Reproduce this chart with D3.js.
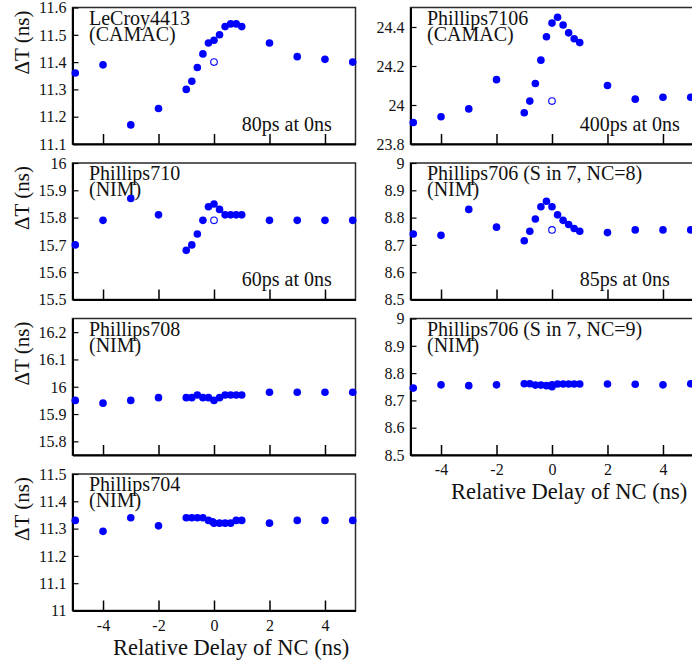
<!DOCTYPE html>
<html>
<head>
<meta charset="utf-8">
<script src="https://cdn.jsdelivr.net/npm/d3@7"></script>
<style>
  html, body { margin: 0; padding: 0; background: #fff; }
  svg { display: block; }
  svg text { font-family: "Liberation Serif", "Times New Roman", Times, "DejaVu Serif", serif !important; fill: #111; }
</style>
</head>
<body>
<svg id="chart" width="692" height="664"></svg>
<script>
// ---------- data ----------
const delays = [-5, -4, -3, -2, -1, -0.8, -0.6, -0.4, -0.2, 0, 0.2, 0.4, 0.6, 0.8, 1, 2, 3, 4, 5];
const delays704 = [-5, -4, -3, -2, -1, -0.8, -0.6, -0.4, -0.2, -0.05, 0, 0.2, 0.4, 0.6, 0.8, 1, 2, 3, 4, 5];
const delays706nc9 = [-5, -4, -3, -2, -1, -0.8, -0.6, -0.4, -0.2, 0, 0, 0.2, 0.4, 0.6, 0.8, 1, 2, 3, 4, 5];

const lecroy4413 = [11.36, 11.39, 11.17, 11.23, 11.30, 11.33, 11.38, 11.43, 11.47, 11.48, 11.50, 11.53, 11.54, 11.54, 11.53, 11.47, 11.42, 11.41, 11.40];
const lecroy4413Open = [11.40];
const phillips710 = [15.70, 15.79, 15.87, 15.81, 15.68, 15.70, 15.74, 15.79, 15.84, 15.85, 15.83, 15.81, 15.81, 15.81, 15.81, 15.79, 15.79, 15.79, 15.79];
const phillips710Open = [15.79];
const phillips708 = [15.95, 15.94, 15.95, 15.96, 15.96, 15.96, 15.97, 15.96, 15.96, 15.95, 15.96, 15.97, 15.97, 15.97, 15.97, 15.98, 15.98, 15.98, 15.98];
const phillips704 = [11.33, 11.29, 11.34, 11.31, 11.34, 11.34, 11.34, 11.34, 11.33, 11.325, 11.32, 11.32, 11.32, 11.32, 11.33, 11.33, 11.32, 11.33, 11.33, 11.33];
const phillips7106 = [23.91, 23.94, 23.98, 24.13, 23.96, 24.02, 24.11, 24.23, 24.35, 24.42, 24.45, 24.41, 24.37, 24.34, 24.32, 24.10, 24.03, 24.04, 24.04];
const phillips7106Open = [24.02];
const phillips706nc8 = [8.74, 8.735, 8.83, 8.765, 8.715, 8.75, 8.795, 8.84, 8.86, 8.84, 8.81, 8.79, 8.775, 8.76, 8.75, 8.745, 8.755, 8.755, 8.755];
const phillips706nc8Open = [8.755];
const phillips706nc9 = [8.745, 8.757, 8.754, 8.757, 8.761, 8.761, 8.756, 8.756, 8.754, 8.757, 8.750, 8.76, 8.76, 8.76, 8.76, 8.76, 8.76, 8.759, 8.757, 8.761];

const xTicks = [-4, -2, 0, 2, 4];
const xTickLabels = ["-4", "-2", "0", "2", "4"];
const yTicks1 = [11.1, 11.2, 11.3, 11.4, 11.5, 11.6];
const yTicks2 = [15.5, 15.6, 15.7, 15.8, 15.9, 16];
const yTicks3 = [15.8, 15.9, 16, 16.1, 16.2];
const yTicks4 = [11, 11.1, 11.2, 11.3, 11.4, 11.5];
const yTicksR1 = [23.8, 24, 24.2, 24.4];
const yTicksR2 = [8.5, 8.6, 8.7, 8.8, 8.9, 9];
const yTicksR3 = [8.5, 8.6, 8.7, 8.8, 8.9, 9];

const panels = [
  { col: 0, row: 0, title: ["LeCroy4413", "(CAMAC)"], x: delays, y: lecroy4413, open: lecroy4413Open, dom: [11.1, 11.6], ticks: yTicks1, note: "80ps at 0ns" },
  { col: 0, row: 1, title: ["Phillips710", "(NIM)"], x: delays, y: phillips710, open: phillips710Open, dom: [15.5, 16], ticks: yTicks2, note: "60ps at 0ns" },
  { col: 0, row: 2, title: ["Phillips708", "(NIM)"], x: delays, y: phillips708, open: [], dom: [15.75, 16.25], ticks: yTicks3, note: null },
  { col: 0, row: 3, title: ["Phillips704", "(NIM)"], x: delays704, y: phillips704, open: [], dom: [11, 11.5], ticks: yTicks4, note: null, bottom: true },
  { col: 1, row: 0, title: ["Phillips7106", "(CAMAC)"], x: delays, y: phillips7106, open: phillips7106Open, dom: [23.8, 24.5], ticks: yTicksR1, note: "400ps at 0ns" },
  { col: 1, row: 1, title: ["Phillips706 (S in 7, NC=8)", "(NIM)"], x: delays, y: phillips706nc8, open: phillips706nc8Open, dom: [8.5, 9], ticks: yTicksR2, note: "85ps at 0ns" },
  { col: 1, row: 2, title: ["Phillips706 (S in 7, NC=9)", "(NIM)"], x: delays706nc9, y: phillips706nc9, open: [], dom: [8.5, 9], ticks: yTicksR3, note: null, bottom: true }
];

// ---------- layout ----------
const colRanges = [[72.5, 355.5], [410.5, 693.5]];
const rowTop = r => 7.5 + r * 155.5;
const panelH = 136.5;
const xDomain = [-5.1, 5.1];
const serif = '"Liberation Serif", "Times New Roman", Times, "DejaVu Serif", serif';

const svg = d3.select("#chart").attr("font-family", serif);
const blue = "#0000ff";

panels.forEach(p => {
  const x = d3.scaleLinear().domain(xDomain).range(colRanges[p.col]);
  const top = rowTop(p.row), bot = top + panelH;
  const y = d3.scaleLinear().domain(p.dom).range([bot, top]);
  const g = svg.append("g").attr("font-family", serif);
  const [x0, x1] = colRanges[p.col];

  // frame (top/right)
  g.append("rect").attr("x", x0).attr("y", top).attr("width", x1 - x0).attr("height", panelH)
    .attr("fill", "none").attr("stroke", "#2a2a2a").attr("stroke-width", 1.5);

  // x axis (ticks inward)
  const xAxis = d3.axisBottom(x).tickValues(xTicks).tickSize(-10).tickSizeOuter(0)
    .tickFormat((d, i) => p.bottom ? xTickLabels[i] : "");
  const gx = g.append("g").attr("transform", `translate(0,${bot})`).call(xAxis)
    .attr("font-family", serif).attr("font-size", 16);
  gx.select(".domain").attr("stroke", "#000").attr("stroke-width", 2);
  gx.selectAll(".tick line").attr("stroke", "#000").attr("stroke-width", 1.5);
  gx.selectAll(".tick text").attr("fill", "#111").attr("dy", 0).attr("y", 20);

  // y axis (ticks inward)
  const yAxis = d3.axisLeft(y).tickValues(p.ticks).tickSize(-6).tickSizeOuter(0)
    .tickFormat(d => String(+d.toFixed(2)));
  const gy = g.append("g").attr("transform", `translate(${x0},0)`).call(yAxis)
    .attr("font-family", serif).attr("font-size", 16);
  gy.select(".domain").attr("stroke", "#000").attr("stroke-width", 2);
  gy.selectAll(".tick line").attr("stroke", "#000").attr("stroke-width", 1.2);
  gy.selectAll(".tick text").attr("fill", "#111").attr("x", -6).attr("dy", "0.33em");

  // y label
  if (p.col === 0) {
    g.append("text").attr("transform", `translate(28.5,${top + 35}) rotate(-90)`)
      .attr("text-anchor", "middle").attr("font-size", 21).text("ΔT (ns)");
  }

  // title (two lines)
  g.append("text").attr("x", x0 + 16.5).attr("y", top + 17).attr("font-size", 20).text(p.title[0]);
  g.append("text").attr("x", x0 + 16.5).attr("y", top + 33).attr("font-size", 20).text(p.title[1]);

  // note
  if (p.note) {
    g.append("text").attr("x", x(1)).attr("y", bot - 13.5).attr("font-size", 20).text(p.note);
  }

  // points
  const pts = p.x.map((d, i) => ({ d, v: p.y[i] }));
  g.selectAll("circle.f").data(pts).enter().append("circle").attr("class", "f")
    .attr("cx", d => x(d.d)).attr("cy", d => y(d.v)).attr("r", 3.8).attr("fill", blue);
  g.selectAll("circle.o").data(p.open).enter().append("circle").attr("class", "o")
    .attr("cx", x(0)).attr("cy", d => y(d)).attr("r", 3.3)
    .attr("fill", "#fff").attr("stroke", blue).attr("stroke-width", 1.1);

  // x label
  if (p.bottom) {
    g.append("text").attr("x", x0 + 40.5).attr("y", bot + 44.3).attr("font-size", 22.5)
      .text("Relative Delay of NC (ns)");
  }
});
</script>
</body>
</html>
